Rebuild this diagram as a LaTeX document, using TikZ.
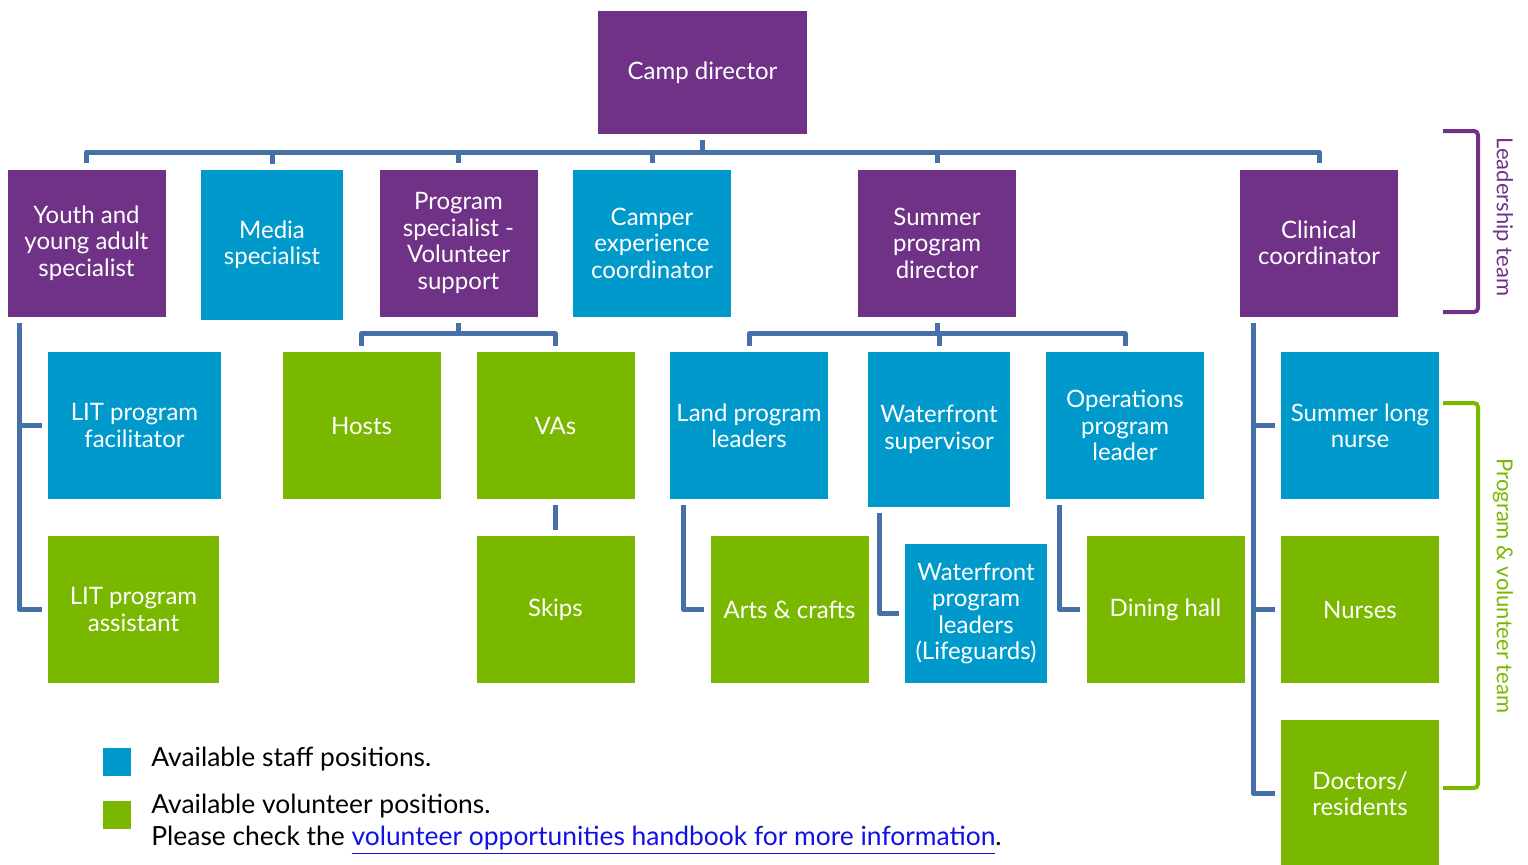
\documentclass[tikz,border=0pt]{standalone}
\usepackage{fontspec}
\setmainfont{Lato}

\definecolor{campurple}{HTML}{6F3287}
\definecolor{campblue}{HTML}{0099CC}
\definecolor{campgreen}{HTML}{7AB800}
\definecolor{linkblue}{HTML}{1010E8}
\definecolor{wireblue}{HTML}{4670A8}

\tikzset{
  box/.style={rectangle, minimum width=79pt, minimum height=73.5pt, inner sep=0pt,
    align=center, text=white, font=\fontsize{12}{13.2}\selectfont},
  lead/.style={box, fill=campurple},
  staff/.style={box, fill=campblue},
  vol/.style={box, fill=campgreen},
  conn/.style={draw=wireblue, line width=2.5pt, line join=round,
    shorten <=3pt, shorten >=3pt},
  bracket/.style={line width=2pt, rounded corners=2pt},
  key/.style={rectangle, minimum size=14pt, inner sep=0pt},
  note/.style={inner sep=0pt, align=left, font=\fontsize{13.2}{16}\selectfont},
}

\begin{document}
\begin{tikzpicture}[x=0.5pt, y=-0.5pt]

\useasboundingbox (0,0) rectangle (1528,864);

% leadership
\node[lead, minimum width=104.5pt, minimum height=61.5pt](camp) at (702.5,72.5) {Camp director};

\node[lead](youth) at (86.5,243) {Youth and\\young adult\\specialist};

\node[staff, minimum width=71pt, minimum height=75pt](media) at (272,245) {Media\\specialist};

\node[lead](progspec) at (458.5,243) {Program\\specialist -\\Volunteer\\support};

\node[staff](camper) at (652,243) {Camper\\experience\\coordinator};

\node[lead](summer) at (937,243) {Summer\\program\\director};

\node[lead](clinical) at (1319,243) {Clinical\\coordinator};

% program and volunteer positions
\node[staff, minimum width=86.5pt](litfac) at (134.5,425.5) {LIT program\\facilitator};

\node[vol, minimum width=85.5pt](litasst) at (133.5,609.5) {LIT program\\assistant};

\node[vol](hosts) at (361.5,425.5) {Hosts};

\node[vol](vas) at (555.5,425.5) {VAs};

\node[vol](skips) at (555.5,609.5) {Skips};

\node[staff](land) at (749,425.5) {Land program\\leaders};

\node[staff, minimum width=71pt, minimum height=77.5pt](ws) at (939,429.5) {Waterfront\\supervisor};

\node[staff](ops) at (1125,425.5) {Operations\\program\\leader};

\node[vol](arts) at (789.5,609.5) {Arts \& crafts};

\node[staff, minimum width=71pt, minimum height=69.5pt](wpl) at (976,613.5) {Waterfront\\program\\leaders\\(Lifeguards)};

\node[vol](dining) at (1165.5,609.5) {Dining hall};

\node[staff](slnurse) at (1360,425.5) {Summer long\\nurse};

\node[vol](nurses) at (1360,609.5) {Nurses};

\node[vol](doctors) at (1360,793.5) {Doctors/\\residents};

% connectors
\coordinate (bus) at (0,152);

\foreach \to in {youth, media, progspec, camper, summer, clinical}
    \draw[conn] (camp.south) -- (camp.south |- bus) -| (\to.north);

\foreach \from/\to in {progspec/hosts, progspec/vas, summer/land, summer/ws, summer/ops}
    \draw[conn] (\from.south) -- ++(0,17) -| (\to.north);

\draw[conn] (vas) -- (skips);

\foreach \from/\to/\dx in {youth/litfac/6pt, youth/litasst/6pt, land/arts/7pt, ws/wpl/6pt,
    ops/dining/7pt, clinical/slnurse/7pt, clinical/nurses/7pt, clinical/doctors/7pt}
    \draw[conn] ([xshift=\dx]\from.south west) |- (\to.west);

% team brackets
\coordinate (leadtop) at (1443,131);
\coordinate (leadbot) at (1443,312);
\coordinate (voltop) at (1443,403);
\coordinate (volbot) at (1443,788);

\draw[bracket, campurple] (leadtop) -- ++(35,0) |- (leadbot);

\draw[bracket, campgreen] (voltop) -- ++(35,0) |- (volbot);

\node[rotate=-90, text=campurple, font=\fontsize{11}{13}\selectfont](leadlabel) at (1503,217) {Leadership team};

\node[rotate=-90, text=campgreen, font=\fontsize{11}{13}\selectfont](vollabel) at (1503,586) {Program \& volunteer team};

% key
\node[key, fill=campblue](keystaff) at (117,761.5) {};

\node[note, anchor=west](staffnote) at (151,759) {Available staff positions.};

\node[key, fill=campgreen](keyvol) at (117,815) {};

\node[note, anchor=north west](volnote) at (151,794) {Available volunteer positions.\\
  Please check the \textcolor{linkblue}{\underline{volunteer opportunities handbook for more information}}.};

\end{tikzpicture}
\end{document}
